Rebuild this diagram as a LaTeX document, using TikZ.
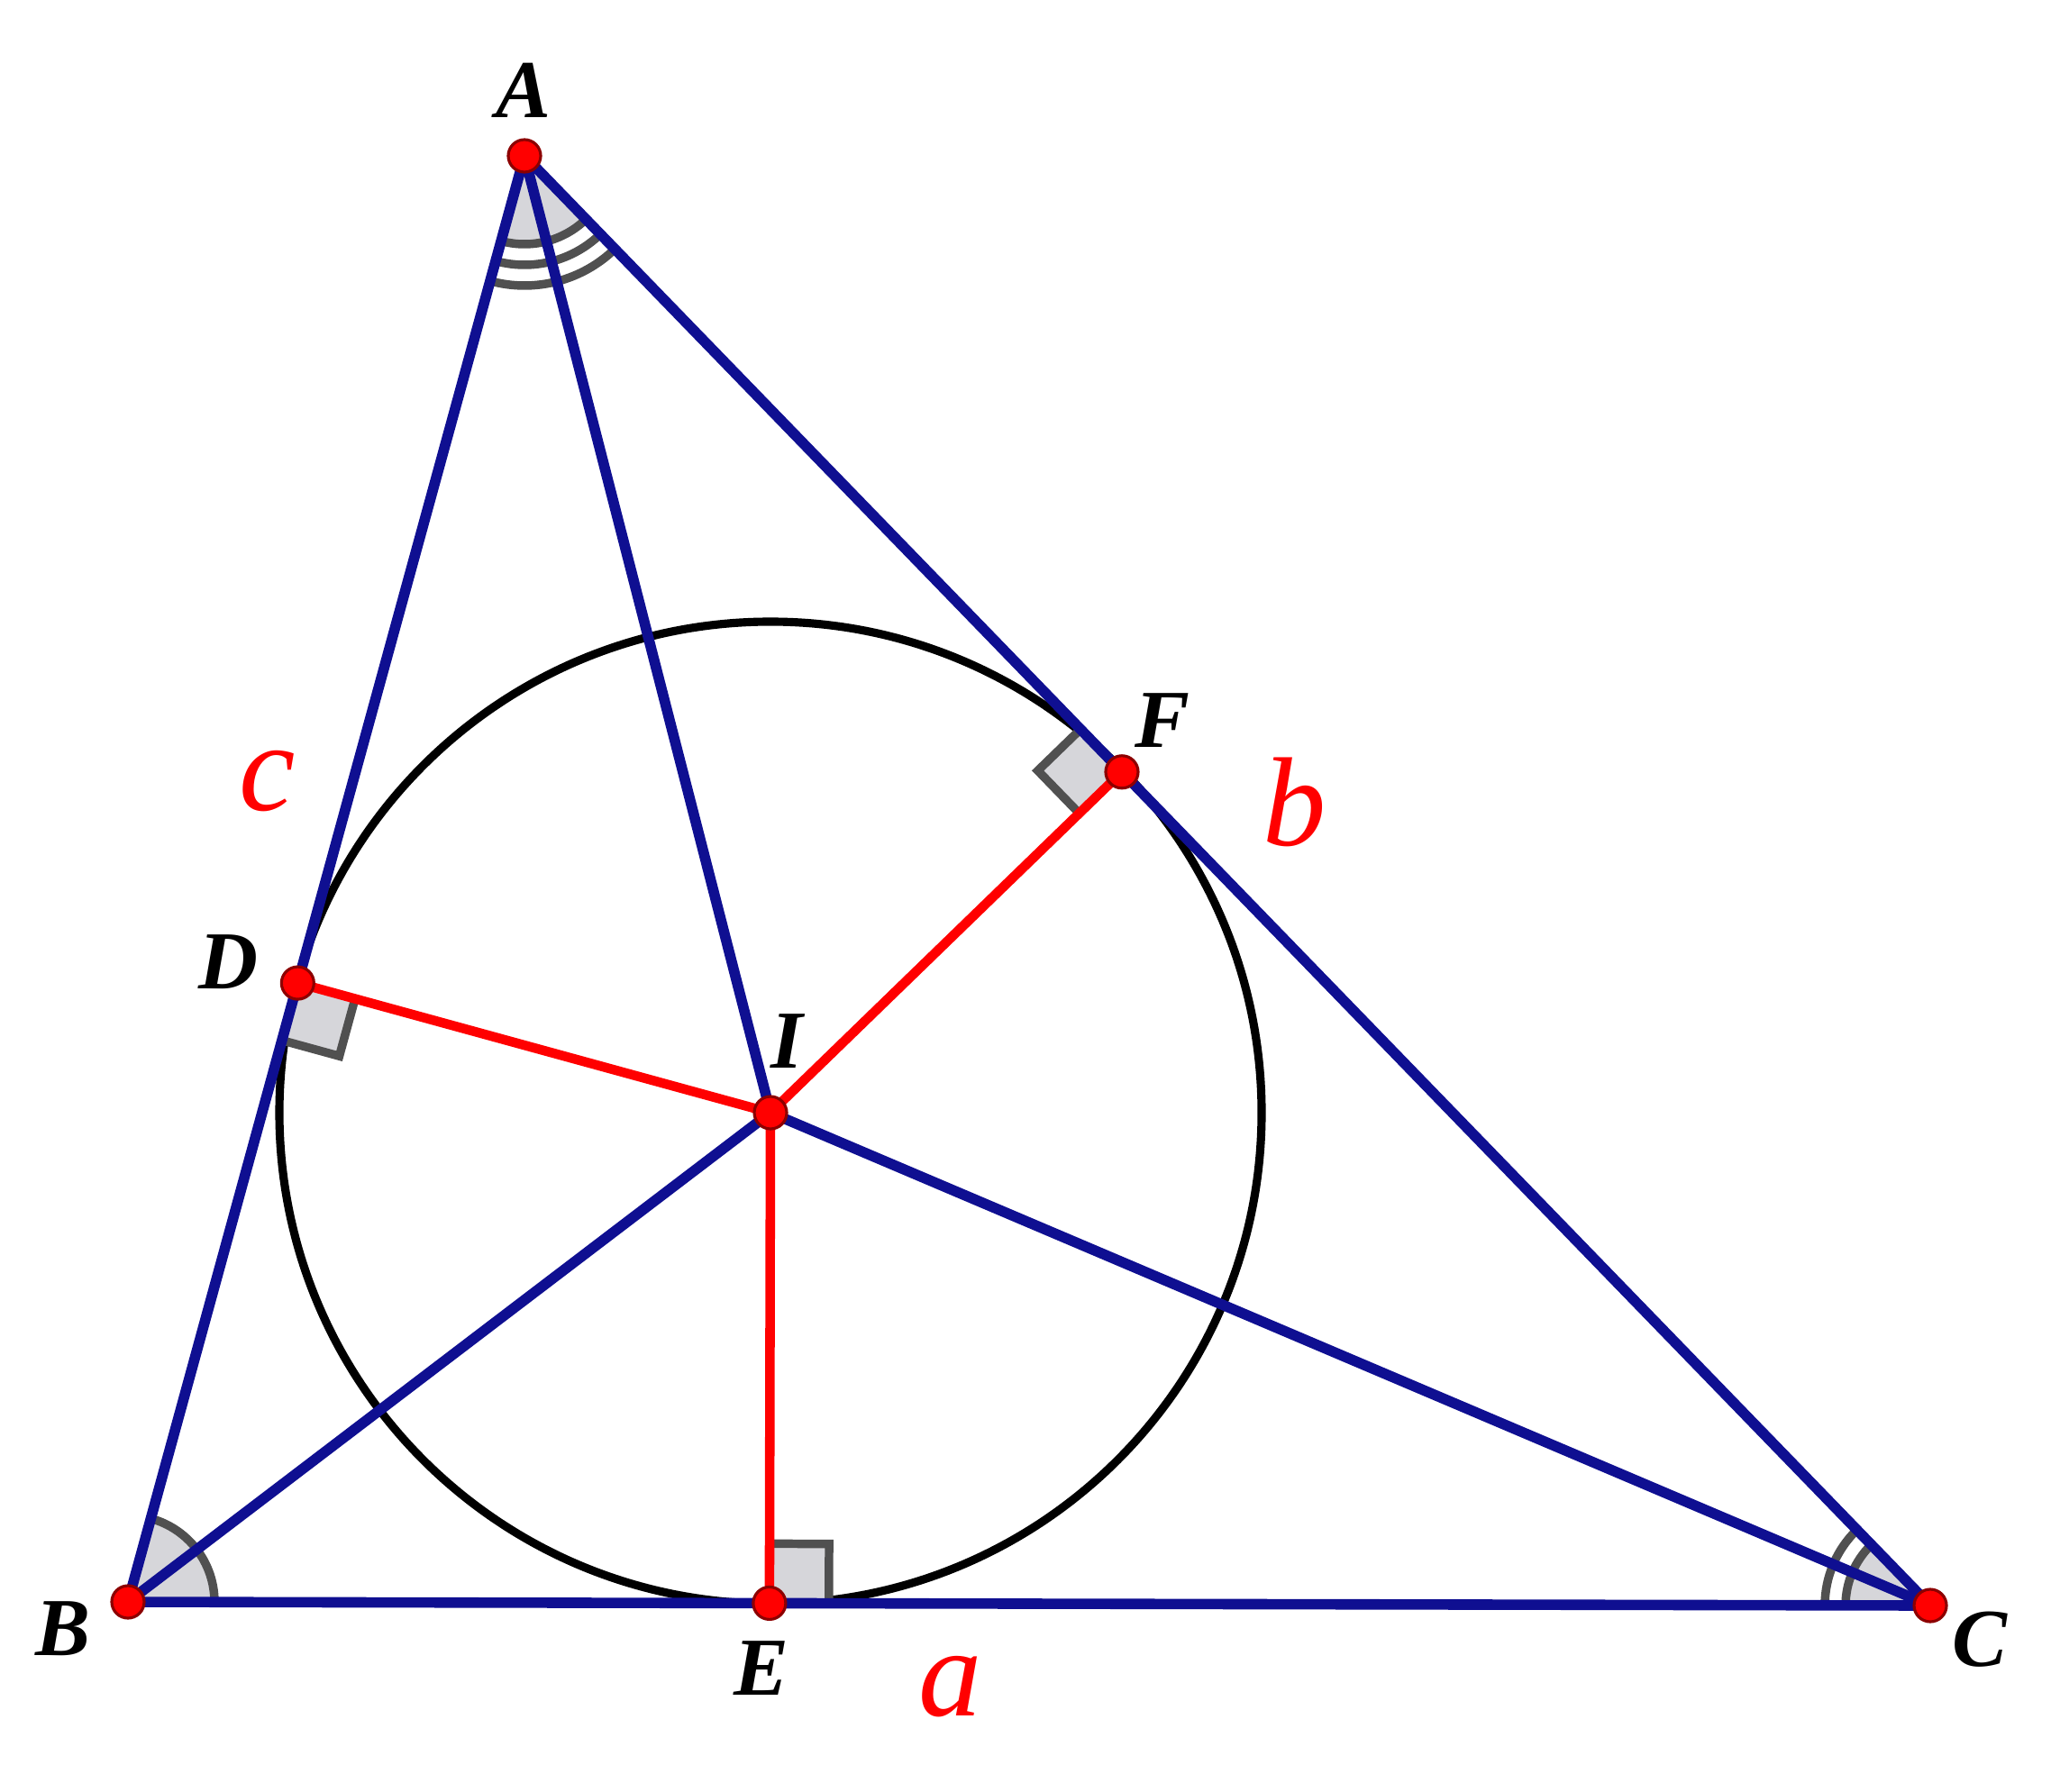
\documentclass[tikz,border=0pt]{standalone}
\usepackage{fontspec}
\setmainfont{Liberation Serif}
\usetikzlibrary{calc}

\definecolor{navy}{RGB}{15,15,145}
\definecolor{markgray}{RGB}{80,80,80}
\definecolor{fillgray}{RGB}{214,214,218}

\tikzset{
    side/.style={navy, line width=3.3pt},
    foot/.style={red, line width=3pt},
    incircle/.style={black, line width=2.6pt},
    anglemark/.style={markgray, line width=2.7pt},
    dot/.style={circle, fill=red, draw=red!55!black, line width=0.9pt, inner sep=0pt, minimum size=0.36cm},
    vlabel/.style={font=\fontsize{26}{26}\selectfont\bfseries\itshape},
    slabel/.style={red, font=\fontsize{40}{40}\selectfont\itshape}
}

\begin{document}
\begin{tikzpicture}
    \useasboundingbox (0,0) rectangle (22.76,19.88);
    \coordinate (A) at (5.82,18.15);
    \coordinate (B) at (1.42,2.10);
\coordinate (C) at (21.42,2.06);
\coordinate (I) at (8.55,7.53);
\coordinate (D) at ($(A)!(I)!(B)$);
\coordinate (E) at ($(B)!(I)!(C)$);
\coordinate (F) at ($(A)!(I)!(C)$);
% incircle
\draw [incircle] (I) circle (5.45);
% angle marks
\fill [fillgray] (A) -- ++(254.7:0.98) arc (254.7:314.1:0.98) -- cycle;
\foreach \r in {0.98,1.21,1.44}
    \draw [anglemark] ($(A)+(254.7:\r)$) arc (254.7:314.1:\r);
\fill [fillgray] (B) -- ++(0:0.96) arc (0:74.7:0.96) -- cycle;
\draw [anglemark] ($(B)+(0:0.96)$) arc (0:74.7:0.96);
\fill [fillgray] (C) -- ++(134.1:0.94) arc (134.1:180:0.94) -- cycle;
\foreach \r in {0.94,1.17}
    \draw [anglemark] ($(C)+(134.1:\r)$) arc (134.1:180:\r);
% right angles
\foreach \p/\q in {E/C, D/B, F/A} {
    \coordinate (s1) at ($(\p)!0.66cm!(\q)$);
    \coordinate (s2) at ($(\p)!0.66cm!(I)$);
    \fill [fillgray] (\p) -- (s1) -- ($(s1)+(s2)-(\p)$) -- (s2) -- cycle;
    \draw [anglemark] (s1) -- ($(s1)+(s2)-(\p)$) -- (s2);
}
\draw [side] (A) -- (B);
\draw [side] (B) -- (C);
\draw [side] (C) -- (A);
\draw [side] (A) -- (I);
\draw [side] (B) -- (I);
\draw [side] (C) -- (I);
\draw [foot] (I) -- (D);
\draw [foot] (I) -- (E);
\draw [foot] (I) -- (F);
\foreach \p in {A,B,C,D,E,F,I}
    \node [dot] (dot\p) at (\p) {};
\node [vlabel] (labA) at (5.81,18.88) {A};
\node [vlabel] (labB) at (0.70,1.80) {B};
\node [vlabel] (labC) at (21.97,1.68) {C};
\node [vlabel] (labD) at (2.53,9.20) {D};
\node [vlabel] (labE) at (8.45,1.36) {E};
\node [vlabel] (labF) at (12.90,11.88) {F};
\node [vlabel] (labI) at (8.73,8.32) {I};
\node [slabel] (laba) at (10.55,1.16) {a};
\node [slabel] (labb) at (14.37,10.98) {b};
\node [slabel] (labc) at (2.97,11.21) {c};
\end{tikzpicture}
\end{document}
